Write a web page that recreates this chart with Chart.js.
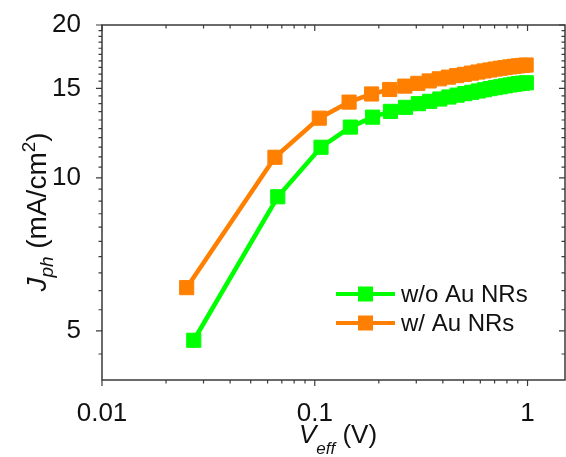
<!DOCTYPE html>
<html>
<head>
<meta charset="utf-8">
<script src="https://cdn.jsdelivr.net/npm/chart.js@4.4.0/dist/chart.umd.min.js"></script>
<style>
  html, body { margin: 0; padding: 0; background: #fff; overflow: hidden; }
  #wrap { width: 566px; height: 457px; }
  canvas { display: block; }
</style>
</head>
<body>
<div id="wrap"><canvas id="chart"></canvas></div>
<script>
// V_eff (V) and J_ph (mA/cm2)
const vWithout = [0.027, 0.067, 0.107, 0.147, 0.187, 0.227, 0.267, 0.307, 0.347, 0.387, 0.427, 0.467, 0.507,
	0.547, 0.587, 0.627, 0.667, 0.707, 0.747, 0.787, 0.827, 0.867, 0.907, 0.947, 0.987];
const jWithout = [4.79, 9.18, 11.49, 12.59, 13.17, 13.52, 13.77, 14.00, 14.15, 14.30, 14.43, 14.55, 14.65,
	14.74, 14.83, 14.91, 14.99, 15.06, 15.12, 15.18, 15.24, 15.29, 15.33, 15.36, 15.39];
const vWith = [0.025, 0.065, 0.105, 0.145, 0.185, 0.225, 0.265, 0.305, 0.345, 0.385, 0.425, 0.465, 0.505,
	0.545, 0.585, 0.625, 0.665, 0.705, 0.745, 0.785, 0.825, 0.865, 0.905, 0.945, 0.985];
const jWith = [6.08, 10.98, 13.11, 14.10, 14.63, 14.93, 15.16, 15.35, 15.52, 15.67, 15.79, 15.90, 15.99,
	16.08, 16.16, 16.24, 16.31, 16.38, 16.44, 16.49, 16.54, 16.58, 16.62, 16.65, 16.68];

const seriesLabels = ['w/o Au NRs', 'w/ Au NRs'];
const seriesColors = ['#00ff00', '#ff8000'];

// tick values
const xMajor = [0.01, 0.1, 1];
const xMinor = [0.02, 0.03, 0.04, 0.05, 0.06, 0.07, 0.08, 0.09, 0.2, 0.3, 0.4, 0.5, 0.6, 0.7, 0.8, 0.9];
const yMajor = [5, 10, 15, 20];
const yMinor = [4.5, 5.5, 6, 6.5, 7, 7.5, 8, 8.5, 9, 9.5, 10.5, 11, 11.5, 12, 12.5, 13, 13.5, 14, 14.5,
	15.5, 16, 16.5, 17, 17.5, 18, 18.5, 19, 19.5];

const toPoints = (xs, ys) => xs.map((v, i) => ({ x: v, y: ys[i] }));

const axisColor = '#3a3a3a';

// box round the plot, ticks on all four sides
const frameTicks = {
	id: 'frameTicks',
	afterDraw(chart) {
		const { ctx, chartArea: a, scales } = chart;
		const sx = scales.x, sy = scales.y;
		ctx.save();
		ctx.strokeStyle = axisColor;
		ctx.lineWidth = 1.5;
		ctx.strokeRect(a.left, a.top, a.right - a.left, a.bottom - a.top);
		ctx.lineWidth = 1.2;
		ctx.beginPath();
		const xt = (vals, len) => vals.forEach(v => {
			const px = sx.getPixelForValue(v);
			ctx.moveTo(px, a.bottom); ctx.lineTo(px, a.bottom + len); // out
			ctx.moveTo(px, a.top); ctx.lineTo(px, a.top + len); // in
		});
		const yt = (vals, len) => vals.forEach(v => {
			const py = sy.getPixelForValue(v);
			ctx.moveTo(a.left, py); ctx.lineTo(a.left - len, py);
			ctx.moveTo(a.right, py); ctx.lineTo(a.right - len, py);
		});
		xt(xMajor, 6); xt(xMinor, 3.5);
		yt(yMajor, 6); yt(yMinor, 3.5);
		ctx.stroke();
		ctx.restore();
	}
};

// axis titles with sub/superscripts
const axisTitles = {
	id: 'axisTitles',
	afterDraw(chart) {
		const ctx = chart.ctx;
		ctx.save();
		ctx.fillStyle = '#111';
		ctx.textBaseline = 'alphabetic';

		// y title, rotated
		const big = 28, small = 19;
		const parts = [
			{ t: 'J', f: `italic ${big}px "Liberation Sans"`, dy: 0 },
			{ t: 'ph', f: `italic ${small}px "Liberation Sans"`, dy: 7 },
			{ t: ' (mA/cm', f: `${big}px "Liberation Sans"`, dy: 0 },
			{ t: '2', f: `${small}px "Liberation Sans"`, dy: -11 },
			{ t: ')', f: `${big}px "Liberation Sans"`, dy: 0 }
		];
		let total = 0;
		parts.forEach(p => { ctx.font = p.f; p.w = ctx.measureText(p.t).width; total += p.w; });
		ctx.translate(46, 212);
		ctx.rotate(-Math.PI / 2);
		let cx = -total / 2;
		parts.forEach(p => { ctx.font = p.f; ctx.fillText(p.t, cx, p.dy); cx += p.w; });
		ctx.setTransform(1, 0, 0, 1, 0, 0);

		// x title
		const xparts = [
			{ t: 'V', f: `italic 26px "Liberation Sans"`, dy: 0 },
			{ t: 'eff', f: `italic 17px "Liberation Sans"`, dy: 11 },
			{ t: ' (V)', f: `26px "Liberation Sans"`, dy: 0 }
		];
		total = 0;
		xparts.forEach(p => { ctx.font = p.f; p.w = ctx.measureText(p.t).width; total += p.w; });
		cx = 338 - total / 2;
		xparts.forEach(p => { ctx.font = p.f; ctx.fillText(p.t, cx, 443 + p.dy); cx += p.w; });
		ctx.restore();
	}
};

// legend inside the plot, lower right
const insideLegend = {
	id: 'insideLegend',
	afterDraw(chart) {
		const ctx = chart.ctx;
		ctx.save();
		ctx.font = '24px "Liberation Sans"';
		ctx.textBaseline = 'middle';
		chart.data.datasets.forEach((ds, i) => {
			const y = 294 + i * 29;
			ctx.strokeStyle = ds.borderColor;
			ctx.lineWidth = 4;
			ctx.beginPath();
			ctx.moveTo(336, y); ctx.lineTo(395, y);
			ctx.stroke();
			ctx.fillStyle = ds.backgroundColor;
			ctx.fillRect(358, y - 7.5, 15, 15);
			ctx.fillStyle = '#111';
			ctx.fillText(ds.label, 401, y + 1);
		});
		ctx.restore();
	}
};

// no extra room for edge labels, the layout padding handles it
const noEdgePad = s => {
	s.paddingLeft = 0; s.paddingRight = 0;
	s.paddingTop = 0; s.paddingBottom = 0;
};

const ctx = document.getElementById('chart').getContext('2d');

new Chart(ctx, {
	type: 'line',
	data: {
		datasets: [{
			label: seriesLabels[0],
			data: toPoints(vWithout, jWithout),
			borderColor: seriesColors[0],
			backgroundColor: seriesColors[0],
			borderWidth: 4.5,
			pointStyle: 'rect',
			pointRadius: 10,
			pointBorderWidth: 1,
			tension: 0
		}, {
			label: seriesLabels[1],
			data: toPoints(vWith, jWith),
			borderColor: seriesColors[1],
			backgroundColor: seriesColors[1],
			borderWidth: 4.5,
			pointStyle: 'rect',
			pointRadius: 10,
			pointBorderWidth: 1,
			tension: 0
		}]
	},
	options: {
		responsive: true,
		maintainAspectRatio: false,
		animation: false,
		layout: { autoPadding: false, padding: { top: 25, right: 1, left: 0, bottom: 0 } },
		plugins: {
			legend: { display: false },
			tooltip: { enabled: false }
		},
		scales: {
			x: {
				type: 'logarithmic',
				min: 0.01,
				max: 1.5,
				grid: { display: false },
				border: { display: false },
				afterBuildTicks: s => { s.ticks = xMajor.map(v => ({ value: v })); },
				afterFit: s => { s.height = 77; noEdgePad(s); },
				ticks: {
					autoSkip: false,
					maxRotation: 0,
					padding: 10,
					color: '#111',
					font: { family: 'Liberation Sans', size: 26 },
					callback: v => String(v)
				}
			},
			y: {
				type: 'logarithmic',
				min: 4,
				max: 20,
				grid: { display: false },
				border: { display: false },
				afterBuildTicks: s => { s.ticks = yMajor.map(v => ({ value: v })); },
				afterFit: s => { s.width = 102; noEdgePad(s); },
				ticks: {
					autoSkip: false,
					padding: 13,
					color: '#111',
					font: { family: 'Liberation Sans', size: 26 },
					callback: v => String(v)
				}
			}
		}
	},
	plugins: [frameTicks, axisTitles, insideLegend]
});
</script>
</body>
</html>
